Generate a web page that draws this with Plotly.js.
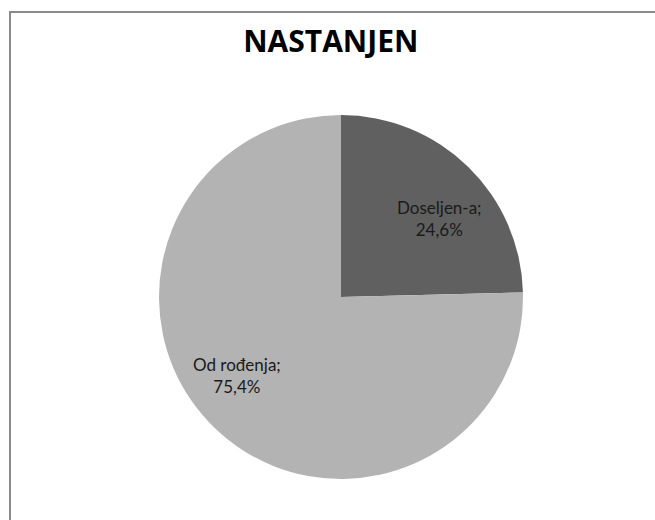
<!DOCTYPE html>
<html>
<head>
<meta charset="utf-8">
<script src="https://cdn.plot.ly/plotly-3.0.1.min.js"></script>
<style>
    html, body { margin: 0; padding: 0; background: white; overflow: hidden; }
    #chart { position: absolute; left: 0; top: 0; width: 655px; height: 520px; }
    #frame {
        position: absolute; left: 9px; top: 11px; width: 700px; height: 560px;
        border-left: 2px solid #8a8a8a; border-top: 2px solid #8a8a8a;
        pointer-events: none;
    }
</style>
</head>
<body>
<div id="chart"></div>
<div id="frame"></div>
<script>
// Data
const categories = ['Doseljen-a', 'Od rođenja'];
const shares = [24.6, 75.4];
const sliceColors = ['#606060', '#b3b3b3'];

// label spots in paper coords (Excel best-fit placement)
const labelSpots = [
    {x: 0.769, y: 0.717},
    {x: 0.217, y: 0.283}
];

function fmtPct(v) {
    return v.toFixed(1).replace('.', ',') + '%';
}

var trace = {
    type: 'pie',
    labels: categories,
    values: shares,
    sort: false,
    direction: 'clockwise',
    rotation: 0,
    textinfo: 'none',
    hoverinfo: 'label+percent',
    marker: {
        colors: sliceColors,
        line: {width: 0}
    }
};

var annotations = categories.map(function(cat, i) {
    return {
        xref: 'paper', yref: 'paper',
        x: labelSpots[i].x, y: labelSpots[i].y,
        xanchor: 'center', yanchor: 'middle',
        text: cat + ';<br>' + fmtPct(shares[i]),
        showarrow: false,
        align: 'center',
        font: {family: 'Lato, sans-serif', size: 17, color: '#1a1a1a'}
    };
});

var layout = {
    width: 655,
    height: 520,
    margin: {l: 157, r: 130, t: 115, b: 41},
    paper_bgcolor: 'white',
    showlegend: false,
    title: {
        text: 'NASTANJEN',
        xref: 'container', yref: 'container',
        x: 0.505, y: 1 - 41.5 / 520,
        xanchor: 'center', yanchor: 'middle',
        font: {family: 'Open Sans, sans-serif', size: 30, color: '#000', weight: 'bold'}
    },
    annotations: annotations
};

Plotly.newPlot('chart', [trace], layout, {displayModeBar: false, staticPlot: true});
</script>
</body>
</html>
